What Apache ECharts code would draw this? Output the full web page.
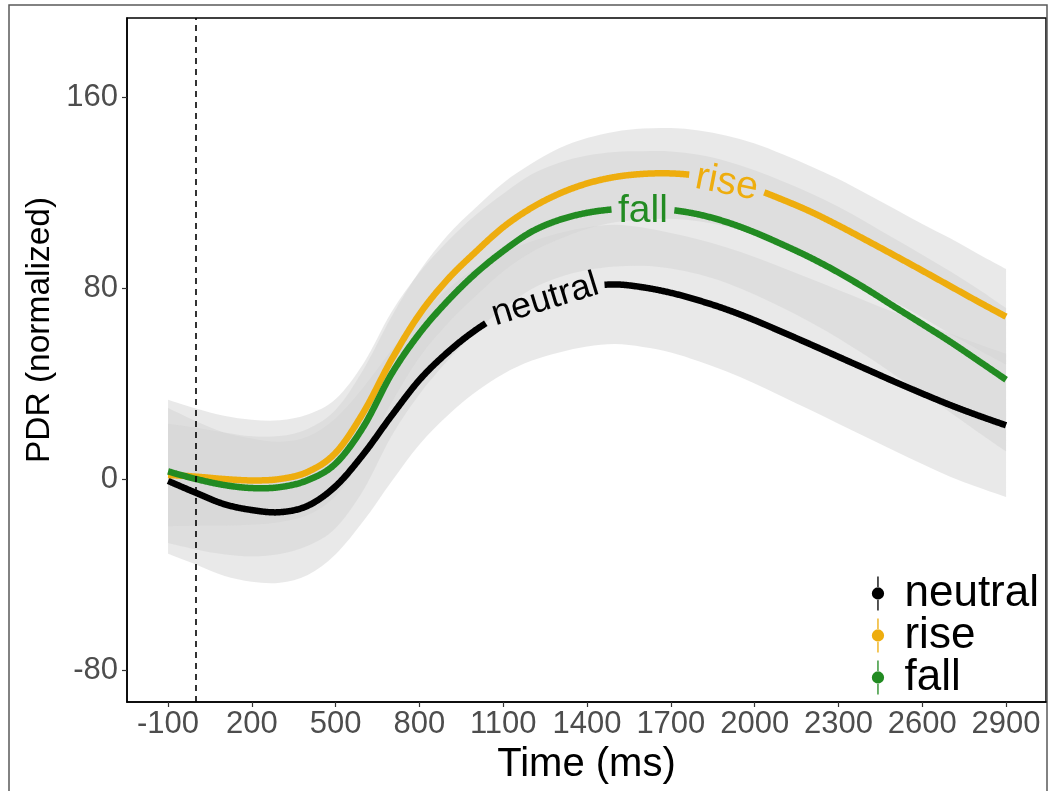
<!DOCTYPE html>
<html><head><meta charset="utf-8">
<script src="https://cdn.jsdelivr.net/npm/echarts@6/dist/echarts.min.js"></script>
<style>html,body{margin:0;padding:0;background:#fff}#c{width:1051px;height:791px}</style>
</head><body><div id="c"></div>
<script>
// ---- data ----
const timeMs = [-100,0,100,200,300,400,500,600,700,800,900,1000,1100,1200,1300,1400,1500,1600,1700,1800,1900,2000,2100,2200,2300,2400,2500,2600,2700,2800,2900];
const neutralMean = [-0.8,-5.8,-10.5,-13,-13.9,-11.2,-3,10.5,26.5,41.5,53,62.3,69.5,74.5,78,80.5,81.5,80.3,78,74.8,71,66.5,61.5,56.4,51.2,46,40.8,35.8,31,26.6,22.5];
const riseMean    = [1.7,1,0,-0.6,0,3,11,28,50,69,83.5,95,105.5,113.5,119.5,123.8,126.5,127.8,128,127,124.8,121.5,117,112,106.2,100,93.7,87.3,80.8,74.3,68];
const fallMean    = [3.2,0,-2.5,-3.8,-3.4,-0.5,6.5,22,44,61,74.5,86,95.5,103.5,108.5,111.5,113,113.3,112.7,110.8,107.6,103.3,98.2,92.7,86.5,79.6,72.2,64.9,57.5,49.6,41.6];
// confidence half-widths (ribbons)
const neutralCI = [30.5,30,30,30,29.5,29,28.5,28,27.5,27,26.5,26,25.5,25,25,25,25,25,25,25.5,26,26.5,27,27.5,28,28.5,29,29.5,30,30,30];
const fallCI    = [30,29.5,29,28.6,28,27.5,27,26.5,26,25.5,25,24.5,24,24,24,24,24,24,24.5,25,25.5,26,26.5,27,27.5,28,28.5,29,29.5,30,30];
const riseCI    = [21.5,20.5,19.5,18.5,18,18,18,18,18,18,18.5,18.5,18.5,18.5,19,19,19,19,19,19,19,19,19,19,19.5,19.5,19.5,19.5,20,20,20];
const seriesNames = ['neutral','rise','fall'];
const xTicks = [-100,200,500,800,1100,1400,1700,2000,2300,2600,2900];
const yTicks = [-80,0,80,160];
const onsetMs = 0;
// where the curve labels sit (data space) and their tilt
const labelAnchors = [[1250,75],[1900,124],[1600,112]];
const labelTilt = [17,-11,0];

// ---- styling ----
const FONT = '"Liberation Sans", Arial, Helvetica, sans-serif';
const colors = {neutral:'#000000', rise:'#EEAD0E', fall:'#228B22'};
const bandFill = 'rgb(212,212,212)';
const bandOpacity = 0.5;
const labelSize = [36,39,39];
const labelGapPad = 6;

const means = {neutral:neutralMean, rise:riseMean, fall:fallMean};
const cis = {neutral:neutralCI, rise:riseCI, fall:fallCI};

const measureCtx = document.createElement('canvas').getContext('2d');
function textWidth(txt, size){ measureCtx.font = size + 'px ' + FONT; return measureCtx.measureText(txt).width; }

function ctrl(pts, i){
  const p0 = pts[i-1] || pts[i], p1 = pts[i], p2 = pts[i+1], p3 = pts[i+2] || pts[i+1];
  return [[p1[0] + (p2[0]-p0[0])/6, p1[1] + (p2[1]-p0[1])/6],
          [p2[0] - (p3[0]-p1[0])/6, p2[1] - (p3[1]-p1[1])/6]];
}
function curveSegs(pts){
  let d = '';
  for (let i = 0; i < pts.length - 1; i++) {
    const c = ctrl(pts, i), p2 = pts[i+1];
    d += ' C' + c[0][0] + ' ' + c[0][1] + ' ' + c[1][0] + ' ' + c[1][1] + ' ' + p2[0] + ' ' + p2[1];
  }
  return d;
}
function sampleCurve(pts, steps){
  const out = [pts[0]];
  for (let i = 0; i < pts.length - 1; i++) {
    const c = ctrl(pts, i), a = pts[i], b = pts[i+1];
    for (let k = 1; k <= steps; k++) {
      const t = k/steps, u = 1-t;
      out.push([u*u*u*a[0] + 3*u*u*t*c[0][0] + 3*u*t*t*c[1][0] + t*t*t*b[0],
                u*u*u*a[1] + 3*u*u*t*c[0][1] + 3*u*t*t*c[1][1] + t*t*t*b[1]]);
    }
  }
  return out;
}

const series = [];
['neutral','fall','rise'].forEach(function(n){
  const m = means[n], c = cis[n];
  series.push({
    name: n + '_band', type:'custom', silent:true, z:1,
    data: [[timeMs[0], m[0]]],
    renderItem: function(params, api){
      const up = timeMs.map((t,i)=>api.coord([t, m[i]+c[i]]));
      const lo = timeMs.map((t,i)=>api.coord([t, m[i]-c[i]])).reverse();
      const d = 'M' + up[0][0] + ' ' + up[0][1] + curveSegs(up) +
                ' L' + lo[0][0] + ' ' + lo[0][1] + curveSegs(lo) + ' Z';
      return {type:'path', shape:{pathData:d}, style:{fill:bandFill, opacity:bandOpacity}};
    }
  });
});
seriesNames.forEach(function(n, si){
  const m = means[n];
  series.push({
    name:n, type:'custom', silent:true, z:3, itemStyle:{color:colors[n]},
    data: [[timeMs[0], m[0]]],
    renderItem: function(params, api){
      const pts = sampleCurve(timeMs.map((t,i)=>api.coord([t, m[i]])), 32);
      const anchor = api.coord(labelAnchors[si]);
      const half = textWidth(n, labelSize[si]) / 2 * Math.cos(labelTilt[si]*Math.PI/180) + labelGapPad;
      const g0 = anchor[0] - half, g1 = anchor[0] + half;
      const runs = [[]];
      pts.forEach(function(p){
        if (p[0] > g0 && p[0] < g1) { if (runs[runs.length-1].length) runs.push([]); }
        else runs[runs.length-1].push(p);
      });
      return {type:'group', children: runs.filter(r=>r.length>1).map(function(r){
        return {type:'polyline', shape:{points:r}, style:{fill:null, stroke:colors[n], lineWidth:6.5, lineCap:'butt', lineJoin:'round'}};
      })};
    }
  });
});
series.push({
  name:'curveLabels', type:'custom', silent:true, z:4,
  data: labelAnchors,
  renderItem: function(params, api){
    const i = params.dataIndex;
    const p = api.coord([api.value(0), api.value(1)]);
    return {type:'text', x:p[0], y:p[1], rotation:labelTilt[i]*Math.PI/180, z2:10,
      style:{text:seriesNames[i], fill:colors[seriesNames[i]], font:labelSize[i] + 'px ' + FONT,
        align:'center', verticalAlign:'middle'}};
  }
});
series.push({
  name:'onset', type:'line', data:[], z:5,
  markLine:{silent:true, symbol:['none','none'], label:{show:false},
    lineStyle:{color:'#000', type:[6,5], width:1.6},
    data:[{xAxis:onsetMs}]}
});

const chart = echarts.init(document.getElementById('c'), null, {renderer:'canvas'});
chart.setOption({
  animation:false,
  backgroundColor:'#fff',
  textStyle:{fontFamily:FONT},
  grid:{left:127, right:5, top:18, bottom:89, show:true, borderColor:'#000', borderWidth:1.5},
  graphic:[
    {type:'rect', shape:{x:9, y:5, width:1038, height:800}, style:{fill:'none', stroke:'#5a5a5a', lineWidth:1.5}, silent:true},
    {type:'text', x:40, y:330, rotation:Math.PI/2, silent:true,
     style:{text:'PDR (normalized)', font:'33.5px ' + FONT, fill:'#000', align:'center', verticalAlign:'middle'}}
  ],
  xAxis:{type:'value', min:-247, max:3043,
    axisLine:{show:true, onZero:false, lineStyle:{color:'#000', width:1.5}},
    axisTick:{show:true, customValues:xTicks, length:5, lineStyle:{color:'#333', width:1.2}},
    axisLabel:{customValues:xTicks, formatter:v=>String(v), color:'#4d4d4d', fontSize:31, margin:7, fontFamily:FONT},
    splitLine:{show:false},
    name:'Time (ms)', nameLocation:'middle', nameGap:24,
    nameTextStyle:{fontSize:40, color:'#000', fontFamily:FONT}},
  yAxis:{type:'value', min:-93.4, max:193.1,
    axisLine:{show:true, onZero:false, lineStyle:{color:'#000', width:1.5}},
    axisTick:{show:true, customValues:yTicks, length:5, lineStyle:{color:'#333', width:1.2}},
    axisLabel:{customValues:yTicks, formatter:v=>String(v), color:'#4d4d4d', fontSize:31, margin:9, fontFamily:FONT},
    splitLine:{show:false}},
  legend:{data:seriesNames, orient:'vertical', right:7, bottom:86.5, itemWidth:13, itemHeight:34, itemGap:-2,
    icon:'path://M5.8,0 L7.2,0 L7.2,12 L5.8,12 Z M5.8,24 L7.2,24 L7.2,36 L5.8,36 Z M0,18 A6.5,6.5 0 1,0 13,18 A6.5,6.5 0 1,0 0,18 Z',
    textStyle:{fontSize:44, color:'#000', padding:[0,0,0,15], fontFamily:FONT},
    selectedMode:false},
  series:series
});
</script></body></html>
